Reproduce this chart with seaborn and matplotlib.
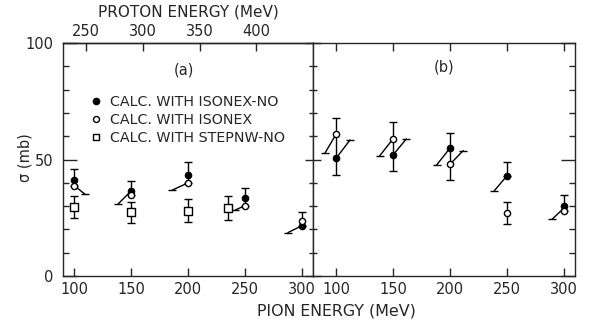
import numpy as np
import pandas as pd
import matplotlib
matplotlib.use("Agg")
import matplotlib.pyplot as plt
import seaborn as sns
from matplotlib.ticker import MultipleLocator, FixedLocator
from matplotlib.lines import Line2D

# ---------------- data ----------------
pion_energy = [100, 150, 200, 250, 300]

# panel (a)
a_isonex_no = [41.0, 36.6, 43.3, 33.3, 21.6]
a_isonex = [38.8, 34.8, 40.0, 30.2, 23.6]
a_bar_top = [45.8, 40.9, 49.1, 37.9, 27.6]
a_bar_bottom = [38.8, 34.8, 40.0, 30.2, 21.6]
a_stepnw_energy = [100, 150, 200, 235]
a_stepnw_no = [29.7, 27.6, 28.0, 29.0]
a_stepnw_top = [34.3, 31.9, 32.9, 34.3]
a_stepnw_bottom = [24.7, 22.9, 23.3, 24.0]
a_shift_x0 = [100, 150, 200, 250, 300]
a_shift_y0 = [38.8, 36.6, 40.0, 30.2, 21.6]
a_shift_x1 = [109.5, 138.4, 186.2, 241.3, 287.6]
a_shift_y1 = [35.0, 30.9, 36.9, 28.3, 18.6]

# panel (b)
b_isonex_no = [50.5, 51.9, 54.8, 42.9, 30.2]
b_isonex = [60.8, 58.8, 47.9, 26.9, 28.0]
b_bar_energy = [100, 150, 200, 250, 250, 300]
b_bar_top = [67.7, 65.9, 61.5, 49.1, 31.9, 34.8]
b_bar_bottom = [43.3, 45.0, 41.2, 42.9, 22.2, 28.0]
b_shift_x0 = [100, 100, 150, 150, 200, 200, 250, 300]
b_shift_y0 = [60.8, 50.5, 58.8, 51.9, 54.8, 47.9, 42.9, 29.0]
b_shift_x1 = [90.4, 112.3, 138.2, 161.7, 188.3, 211.7, 239.1, 289.7]
b_shift_y1 = [52.9, 58.4, 51.5, 58.8, 47.6, 53.8, 36.6, 24.3]

proton_ticks = [250, 300, 350, 400]
proton_offset = 140.0  # proton energy ~ pion energy + offset

legend_labels = ["CALC. WITH ISONEX-NO", "CALC. WITH ISONEX", "CALC. WITH STEPNW-NO"]

# ---------------- style ----------------
sns.set_style("ticks")
plt.rcParams["font.family"] = ["DejaVu Sans"]
plt.rcParams["font.size"] = 10
plt.rcParams["axes.linewidth"] = 1.0

fig = plt.figure(figsize=(5.94, 3.24), dpi=100)
gs = fig.add_gridspec(1, 2, width_ratios=[220, 230], wspace=0,
                      left=63 / 594, right=575 / 594,
                      top=1 - 43 / 324, bottom=1 - 276 / 324)
ax_a = fig.add_subplot(gs[0])
ax_b = fig.add_subplot(gs[1])

FILLED = dict(marker="o", color="black", edgecolor="black", s=22, linewidth=0.8, zorder=5)
OPEN = dict(marker="o", color="white", edgecolor="black", s=20, linewidth=1.0, zorder=6)
SQUARE = dict(marker="s", color="white", edgecolor="black", s=30, linewidth=1.0, zorder=6)


def bars(ax, x, top, bottom):
    top = np.asarray(top); bottom = np.asarray(bottom)
    mid = (top + bottom) / 2
    half = (top - bottom) / 2
    ax.errorbar(x, mid, yerr=half, fmt="none", ecolor="black",
                elinewidth=1.0, capsize=3.2, capthick=1.0, zorder=3)


def shifts(ax, x0, y0, x1, y1):
    for a, b, c, d in zip(x0, y0, x1, y1):
        ax.plot([a, c], [b, d], color="black", lw=1.0, zorder=2)
        ax.plot([c], [d], marker="_", ms=5.5, mew=1.0, color="black", zorder=2)


# panel a
bars(ax_a, pion_energy, a_bar_top, a_bar_bottom)
bars(ax_a, a_stepnw_energy, a_stepnw_top, a_stepnw_bottom)
shifts(ax_a, a_shift_x0, a_shift_y0, a_shift_x1, a_shift_y1)
sns.scatterplot(x=pion_energy, y=a_isonex, ax=ax_a, **OPEN)
sns.scatterplot(x=pion_energy, y=a_isonex_no, ax=ax_a, **FILLED)
sns.scatterplot(x=a_stepnw_energy, y=a_stepnw_no, ax=ax_a, **SQUARE)

# panel b
bars(ax_b, b_bar_energy, b_bar_top, b_bar_bottom)
shifts(ax_b, b_shift_x0, b_shift_y0, b_shift_x1, b_shift_y1)
sns.scatterplot(x=pion_energy, y=b_isonex, ax=ax_b, **OPEN)
sns.scatterplot(x=pion_energy, y=b_isonex_no, ax=ax_b, **FILLED)

ax_a.set_xlim(90, 310)
ax_b.set_xlim(80, 310)
for ax in (ax_a, ax_b):
    ax.set_ylim(0, 100)
    ax.set_xticks(pion_energy)
    ax.set_xticklabels([str(v) for v in pion_energy])
    ax.yaxis.set_major_locator(FixedLocator([0, 50, 100]))
    ax.yaxis.set_minor_locator(MultipleLocator(10))
    ax.tick_params(axis="y", which="major", direction="in", length=10, width=1.0,
                   left=True, right=True)
    ax.tick_params(axis="y", which="minor", direction="in", length=4.0, width=1.0,
                   left=True, right=True)
    ax.tick_params(axis="x", direction="in", length=5.5, width=1.0, pad=4,
                   labelsize=10.5)
    for sp in ax.spines.values():
        sp.set_visible(True)
        sp.set_linewidth(1.0)
    ax.set_xlabel("")
    ax.set_ylabel("")

ax_a.tick_params(axis="y", labelsize=10.5, pad=7, labelleft=True)
ax_b.tick_params(axis="y", labelleft=False)
ax_b.tick_params(axis="x", top=True)

# shorter major ticks along the shared divider
for t in ax_a.yaxis.get_major_ticks():
    t.tick2line.set_markersize(6)
for t in ax_b.yaxis.get_major_ticks():
    t.tick1line.set_markersize(6)
for t in ax_a.yaxis.get_minor_ticks():
    t.tick2line.set_markersize(3)
for t in ax_b.yaxis.get_minor_ticks():
    t.tick1line.set_markersize(3)

sec = ax_a.secondary_xaxis("top", functions=(lambda x: x + proton_offset,
                                             lambda x: x - proton_offset))
sec.set_xticks(proton_ticks)
sec.tick_params(direction="in", length=5.5, width=1.0, pad=3, labelsize=10.5)
sec.set_xlabel("PROTON ENERGY (MeV)", fontsize=11, labelpad=5)

ax_a.text(0.485, 0.884, "(a)", transform=ax_a.transAxes, ha="center", va="center", fontsize=10.5)
ax_b.text(0.5, 0.895, "(b)", transform=ax_b.transAxes, ha="center", va="center", fontsize=10.5)

handles = [
    Line2D([], [], ls="none", marker="o", ms=4.5, mfc="black", mec="black"),
    Line2D([], [], ls="none", marker="o", ms=4.3, mfc="white", mec="black", mew=1.0),
    Line2D([], [], ls="none", marker="s", ms=5.0, mfc="white", mec="black", mew=1.0),
]
ax_a.legend(handles, legend_labels, loc="upper left", bbox_to_anchor=(0.105, 0.775),
            frameon=False, handlelength=0.9, handletextpad=0.55, labelspacing=0.25,
            borderpad=0, borderaxespad=0, fontsize=10.3)

fig.text(25 / 594, 1 - 158 / 324, "σ (mb)", rotation=90, ha="center", va="center", fontsize=10.5)
fig.text(336 / 594, 1 - 311 / 324, "PION ENERGY (MeV)", ha="center", va="center", fontsize=11.4)

fig.savefig("out.png", dpi=100)
